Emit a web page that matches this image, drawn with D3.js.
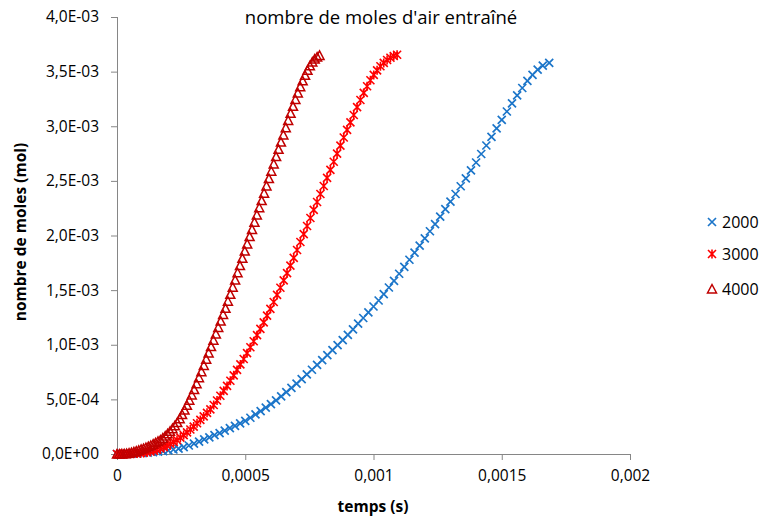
<!DOCTYPE html>
<html><head><meta charset="utf-8">
<script src="https://cdn.jsdelivr.net/npm/d3@7"></script>
<style>html,body{margin:0;padding:0;background:#fff;}svg{display:block;font-family:"Open Sans",sans-serif;}</style>
</head><body>
<svg id="c" width="763" height="521"></svg>
<script>
const title = "nombre de moles d'air entraîné";
const xLabel = "temps (s)";
const yLabel = "nombre de moles (mol)";
const seriesNames = ["2000", "3000", "4000"];
const xTicks = [0, 0.0005, 0.001, 0.0015, 0.002];
const xTickLabels = ["0", "0,0005", "0,001", "0,0015", "0,002"];
const yTicks = [0, 0.0005, 0.001, 0.0015, 0.002, 0.0025, 0.003, 0.0035, 0.004];
const yTickLabels = ["0,0E+00", "5,0E-04", "1,0E-03", "1,5E-03", "2,0E-03", "2,5E-03", "3,0E-03", "3,5E-03", "4,0E-03"];

// time in microseconds, moles in 1e-3 mol
const t2000 = [0,20,40,60,80,100,120,140,160,180,200,220,240,260,280,300,320,340,360,380,400,420,440,460,480,500,520,540,560,580,600,620,640,660,680,700,720,740,760,780,800,820,840,860,880,900,920,940,960,980,1000,1020,1040,1060,1080,1100,1120,1140,1160,1180,1200,1220,1240,1260,1280,1300,1320,1340,1360,1380,1400,1420,1440,1460,1480,1500,1520,1540,1560,1580,1600,1620,1640,1660,1685];
const n2000 = [0.000,0.000,0.001,0.003,0.005,0.008,0.012,0.016,0.021,0.027,0.033,0.041,0.050,0.063,0.078,0.095,0.113,0.133,0.153,0.172,0.192,0.214,0.236,0.258,0.280,0.303,0.332,0.362,0.393,0.424,0.456,0.490,0.528,0.566,0.605,0.645,0.686,0.728,0.771,0.815,0.860,0.905,0.950,0.996,1.042,1.090,1.141,1.193,1.245,1.297,1.350,1.405,1.464,1.524,1.585,1.650,1.713,1.778,1.843,1.908,1.973,2.039,2.105,2.172,2.241,2.310,2.380,2.451,2.523,2.596,2.668,2.746,2.824,2.902,2.980,3.058,3.135,3.210,3.282,3.350,3.415,3.470,3.518,3.555,3.580];
const t3000 = [0,13,26,39,52,65,78,91,104,117,130,143,156,169,182,195,208,221,234,247,260,273,286,299,312,325,338,351,364,377,390,403,416,429,442,455,468,481,494,507,520,533,546,559,572,585,598,611,624,637,650,663,676,689,702,715,728,741,754,767,780,793,806,819,832,845,858,871,884,897,910,923,936,949,962,975,988,1001,1014,1027,1040,1053,1066,1079,1092];
const n3000 = [0.000,0.000,0.000,0.001,0.002,0.003,0.005,0.008,0.012,0.017,0.023,0.030,0.039,0.050,0.063,0.078,0.094,0.111,0.128,0.150,0.173,0.198,0.224,0.251,0.281,0.312,0.344,0.377,0.408,0.448,0.490,0.533,0.578,0.623,0.671,0.720,0.770,0.820,0.870,0.923,0.977,1.032,1.088,1.145,1.205,1.266,1.328,1.391,1.456,1.522,1.589,1.656,1.724,1.795,1.867,1.940,2.013,2.087,2.160,2.234,2.307,2.380,2.453,2.527,2.601,2.675,2.749,2.823,2.897,2.967,3.036,3.103,3.175,3.240,3.305,3.366,3.421,3.470,3.512,3.549,3.580,3.606,3.627,3.643,3.655];
const t4000 = [0,9.4,18.8,28.2,37.6,47,56.4,65.8,75.2,84.6,94,103.4,112.8,122.2,131.6,141,150.4,159.8,169.2,178.6,188,197.4,206.8,216.2,225.6,235,244.4,253.8,263.2,272.6,282,291.4,300.8,310.2,319.6,329,338.4,347.8,357.2,366.6,376,385.4,394.8,404.2,413.6,423,432.4,441.8,451.2,460.6,470,479.4,488.8,498.2,507.6,517,526.4,535.8,545.2,554.6,564,573.4,582.8,592.2,601.6,611,620.4,629.8,639.2,648.6,658,667.4,676.8,686.2,695.6,705,714.4,723.8,733.2,742.6,752,761.4,770.8,780.2,789.6];
const n4000 = [0.000,0.000,0.001,0.002,0.004,0.008,0.013,0.019,0.026,0.034,0.042,0.049,0.058,0.068,0.078,0.090,0.102,0.115,0.128,0.145,0.164,0.185,0.208,0.232,0.258,0.288,0.323,0.361,0.402,0.446,0.492,0.540,0.590,0.643,0.698,0.754,0.811,0.868,0.925,0.983,1.041,1.099,1.158,1.217,1.277,1.333,1.398,1.462,1.527,1.593,1.659,1.725,1.791,1.857,1.923,1.990,2.056,2.122,2.188,2.254,2.320,2.387,2.454,2.521,2.588,2.655,2.722,2.789,2.855,2.921,2.987,3.053,3.118,3.182,3.245,3.305,3.362,3.416,3.466,3.512,3.553,3.588,3.615,3.634,3.648];

const colors = ["#1b75c9", "#ff0000", "#c00000"];
const series = [
  {name: seriesNames[0], t: t2000, n: n2000, color: colors[0], marker: "x"},
  {name: seriesNames[1], t: t3000, n: n3000, color: colors[1], marker: "star"},
  {name: seriesNames[2], t: t4000, n: n4000, color: colors[2], marker: "tri"}
];

const svg = d3.select("#c");
const x = d3.scaleLinear().domain([0, 0.002]).range([117, 630]);
const y = d3.scaleLinear().domain([0, 0.004]).range([454, 17]);
const axisColor = "#868686";
const FONT = "Open Sans";

// y axis
const yAxis = svg.append("g").attr("transform", "translate(117,0)")
  .call(d3.axisLeft(y).tickValues(yTicks).tickSize(6).tickPadding(12)
    .tickFormat((d, i) => yTickLabels[i]));
yAxis.select(".domain").attr("stroke", axisColor).attr("d", "M0.5,17V454.5");
yAxis.selectAll(".tick line").attr("stroke", axisColor);
yAxis.selectAll("text").attr("font-size", 15.5).attr("fill", "#000").style("font-family", FONT);

// x axis
const xAxis = svg.append("g").attr("transform", "translate(0,454)")
  .call(d3.axisBottom(x).tickValues(xTicks).tickSize(6).tickPadding(10)
    .tickFormat((d, i) => xTickLabels[i]));
xAxis.select(".domain").attr("stroke", axisColor).attr("d", "M117,0.5H630");
xAxis.selectAll(".tick line").attr("stroke", axisColor);
xAxis.selectAll("text").attr("font-size", 15.5).attr("fill", "#000").style("font-family", FONT);

function drawMarker(g, type, color, cx, cy) {
  const s = 4;
  if (type === "x") {
    g.append("path").attr("d", `M${cx-s},${cy-s}L${cx+s},${cy+s}M${cx-s},${cy+s}L${cx+s},${cy-s}`)
      .attr("stroke", color).attr("stroke-width", 1.7).attr("fill", "none");
  } else if (type === "star") {
    g.append("path").attr("d", `M${cx-s},${cy-s}L${cx+s},${cy+s}M${cx-s},${cy+s}L${cx+s},${cy-s}M${cx},${cy-s-0.5}L${cx},${cy+s+0.5}`)
      .attr("stroke", color).attr("stroke-width", 1.6).attr("fill", "none");
  } else {
    const h = 4.5;
    g.append("path").attr("d", `M${cx},${cy-h}L${cx+h},${cy+h-0.5}L${cx-h},${cy+h-0.5}Z`)
      .attr("stroke", color).attr("stroke-width", 1.5).attr("fill", "none");
  }
}

series.forEach(s => {
  const g = svg.append("g");
  s.t.forEach((tv, i) => {
    drawMarker(g, s.marker, s.color, x(tv * 1e-6), y(s.n[i] * 1e-3));
  });
});

// title
svg.append("text").attr("x", 381).attr("y", 24).attr("text-anchor", "middle")
  .attr("font-size", 18.5).attr("fill", "#000").style("font-family", FONT).text(title);

// axis titles
svg.append("text").attr("x", 373).attr("y", 512).attr("text-anchor", "middle")
  .attr("font-size", 15.5).attr("font-weight", "bold").attr("fill", "#000").style("font-family", FONT).text(xLabel);
svg.append("text").attr("transform", "translate(26,232) rotate(-90)").attr("text-anchor", "middle")
  .attr("font-size", 15.5).attr("font-weight", "bold").attr("fill", "#000").style("font-family", FONT).text(yLabel);

// legend
const legendY = [222, 254, 289];
series.forEach((s, i) => {
  const g = svg.append("g");
  drawMarker(g, s.marker, s.color, 712, legendY[i]);
  g.append("text").attr("x", 722).attr("y", legendY[i] + 5.5).attr("font-size", 16)
    .attr("fill", "#000").style("font-family", FONT).text(s.name);
});
</script>
</body></html>
